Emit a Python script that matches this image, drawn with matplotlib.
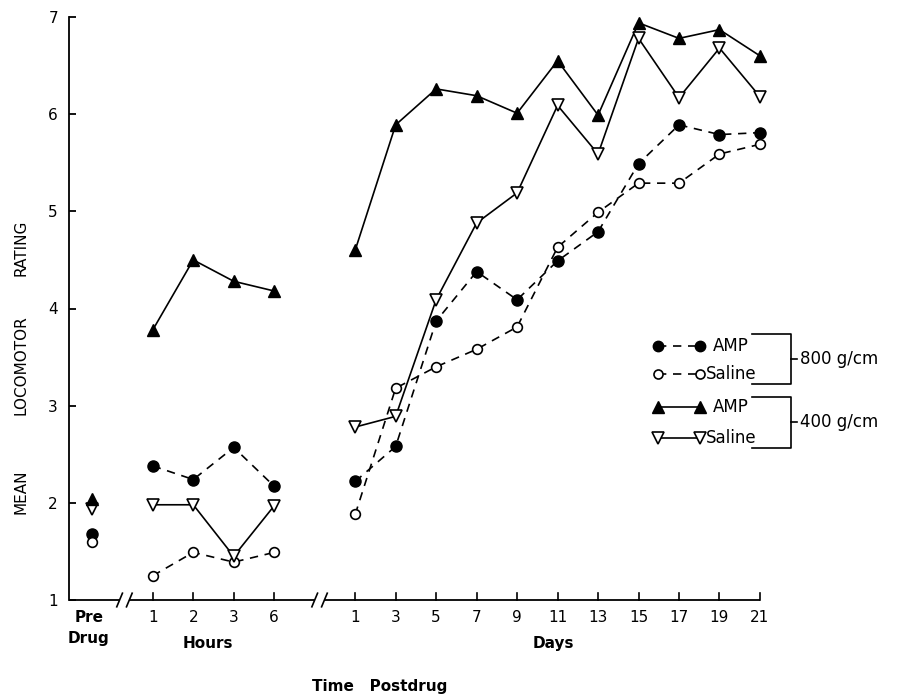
import matplotlib
matplotlib.use("Agg")
import matplotlib.pyplot as plt
from matplotlib.lines import Line2D

# ---------------- data ----------------
hour_labels = ['1', '2', '3', '6']
day_labels = ['1', '3', '5', '7', '9', '11', '13', '15', '17', '19', '21']

amp800_pre = 1.68
sal800_pre = 1.60
amp400_pre = 2.04
sal400_pre = 1.94

amp800_hours = [2.38, 2.24, 2.57, 2.17]
sal800_hours = [1.25, 1.49, 1.39, 1.49]
amp400_hours = [3.78, 4.50, 4.28, 4.18]
sal400_hours = [1.98, 1.98, 1.45, 1.97]

amp800_days = [2.22, 2.58, 3.87, 4.38, 4.09, 4.49, 4.79, 5.49, 5.89, 5.79, 5.81]
sal800_days = [1.88, 3.18, 3.40, 3.58, 3.81, 4.63, 4.99, 5.29, 5.29, 5.59, 5.69]
amp400_days = [4.60, 5.89, 6.26, 6.19, 6.01, 6.55, 5.99, 6.94, 6.78, 6.87, 6.60]
sal400_days = [2.78, 2.89, 4.09, 4.88, 5.19, 6.09, 5.59, 6.78, 6.17, 6.68, 6.18]

y_ticks = [1, 2, 3, 4, 5, 6, 7]

# ---------------- layout ----------------
W, H = 898, 696
fig = plt.figure(figsize=(W / 100, H / 100), dpi=100)
plt.rcParams['font.family'] = ['DejaVu Sans']

ax_left_px, ax_right_px, ax_top_px, ax_bot_px = 69, 762, 17, 600
ax = fig.add_axes([ax_left_px / W, 1 - ax_bot_px / H,
                   (ax_right_px - ax_left_px) / W, (ax_bot_px - ax_top_px) / H])

pre_x = 0.0
hour_x = [1.5 + i for i in range(len(hour_labels))]
day_x = [6.5 + i for i in range(len(day_labels))]
x_left = -0.57
x_right = day_x[-1] + 0.05
ax.set_xlim(x_left, x_right)
ax.set_ylim(1, 7)

ax.spines['top'].set_visible(False)
ax.spines['right'].set_visible(False)
ax.spines['bottom'].set_visible(False)
ax.spines['left'].set_linewidth(1.3)

ax.set_yticks(y_ticks)
ax.set_yticklabels([str(v) for v in y_ticks], fontsize=11)
ax.tick_params(axis='y', direction='in', length=5, width=1.3, pad=8)
ax.set_xticks([])

# bottom axis with breaks
lw_axis = 1.3
segs = [(x_left, 0.68), (0.92, 5.5), (5.74, day_x[-1])]
for a, b in segs:
    ax.plot([a, b], [1, 1], color='black', lw=lw_axis, clip_on=False, solid_capstyle='butt')
for bx in [0.68, 0.92, 5.5, 5.74]:
    ax.plot([bx - 0.07, bx + 0.07], [0.93, 1.07], color='black', lw=1.2, clip_on=False)
# upward ticks
for xv in hour_x + day_x:
    ax.plot([xv, xv], [1, 1.07], color='black', lw=1.2, clip_on=False)

# tick labels
for xv, lab in zip(hour_x, hour_labels):
    ax.text(xv, 0.82, lab, ha='center', va='center', fontsize=11)
for xv, lab in zip(day_x, day_labels):
    ax.text(xv, 0.82, lab, ha='center', va='center', fontsize=11)
ax.text(pre_x - 0.08, 0.82, 'Pre', ha='center', va='center', fontsize=11, fontweight='bold')
ax.text(pre_x - 0.08, 0.60, 'Drug', ha='center', va='center', fontsize=11, fontweight='bold')
ax.text((hour_x[0] + hour_x[-1]) / 2 - 0.15, 0.55, 'Hours', ha='center', va='center',
        fontsize=11, fontweight='bold')
ax.text((day_x[0] + day_x[-1]) / 2 - 0.1, 0.55, 'Days', ha='center', va='center',
        fontsize=11, fontweight='bold')
fig.text(380 / W, 1 - 686 / H, 'Time   Postdrug', ha='center', va='center',
         fontsize=11, fontweight='bold')

# y label pieces
for txt, py in [('MEAN', 492), ('LOCOMOTOR', 365), ('RATING', 248)]:
    fig.text(21 / W, 1 - py / H, txt, rotation=90, ha='center', va='center', fontsize=11)

# ---------------- series ----------------
line_kw = dict(color='black', lw=1.2)
dash = (0, (5, 4))
styles = {
    'amp800': dict(marker='o', ms=8, mfc='black', mec='black', ls=dash),
    'sal800': dict(marker='o', ms=7, mfc='white', mec='black', mew=1.2, ls=dash),
    'amp400': dict(marker='^', ms=8.5, mfc='black', mec='black', ls='-'),
    'sal400': dict(marker='v', ms=8.5, mfc='white', mec='black', mew=1.2, ls='-'),
}
pre_z = {'amp800': 4, 'sal800': 4, 'amp400': 5, 'sal400': 4}
series = [
    ('amp800', amp800_pre, amp800_hours, amp800_days),
    ('sal800', sal800_pre, sal800_hours, sal800_days),
    ('amp400', amp400_pre, amp400_hours, amp400_days),
    ('sal400', sal400_pre, sal400_hours, sal400_days),
]
for key, pre, hrs, dys in series:
    st = styles[key]
    ax.plot(hour_x, hrs, **line_kw, **st, clip_on=False, zorder=3)
    ax.plot(day_x, dys, **line_kw, **st, clip_on=False, zorder=3)
    st_pt = dict(st)
    st_pt['ls'] = 'none'
    ax.plot([pre_x], [pre], **st_pt, clip_on=False, zorder=pre_z[key])

# ---------------- legend ----------------
def fx(px):
    return px / W

def fy(py):
    return 1 - py / H

legend_rows = [
    ('amp800', 'AMP', 346, 713),
    ('sal800', 'Saline', 374, 706),
    ('amp400', 'AMP', 407, 713),
    ('sal400', 'Saline', 438, 706),
]
for key, lab, py, tx in legend_rows:
    st = styles[key]
    fig.add_artist(Line2D([fx(658), fx(700)], [fy(py), fy(py)], color='black', lw=1.2,
                          linestyle=st['ls'], marker=st['marker'], markersize=st['ms'] - 0.5,
                          markerfacecolor=st['mfc'], markeredgecolor=st['mec'],
                          markeredgewidth=st.get('mew', 1.0)))
    fig.text(fx(tx), fy(py), lab, ha='left', va='center', fontsize=12)

for top, bot, mid, lab in [(334, 384, 359, '800 g/cm'), (397, 448, 422, '400 g/cm')]:
    fig.add_artist(Line2D([fx(752), fx(791), fx(791), fx(752)],
                          [fy(top), fy(top), fy(bot), fy(bot)], color='black', lw=1.2))
    fig.add_artist(Line2D([fx(791), fx(797)], [fy(mid), fy(mid)], color='black', lw=1.2))
    fig.text(fx(800), fy(mid), lab, ha='left', va='center', fontsize=12)

fig.savefig('out.png', dpi=100)
